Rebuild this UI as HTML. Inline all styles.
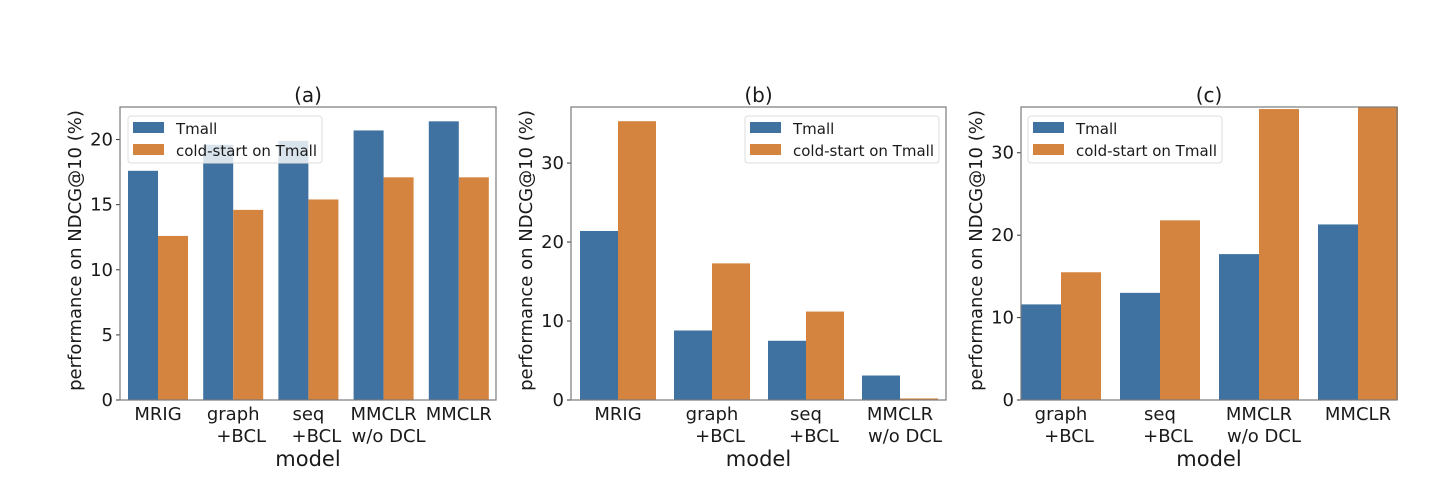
<!DOCTYPE html>
<html><head><meta charset="utf-8"><style>
body{margin:0;background:#fff;}
text{font-family:"DejaVu Sans","Liberation Sans",sans-serif;fill:#1a1a1a;}
</style></head><body>
<svg id="chart" width="1440" height="496" xmlns="http://www.w3.org/2000/svg"></svg>
<script>
const catsA = [["MRIG"],["graph","+BCL"],["seq","+BCL"],["MMCLR","w/o DCL"],["MMCLR"]];
const tmallA = [17.6,19.6,19.9,20.7,21.4];
const coldA = [12.6,14.6,15.4,17.1,17.1];
const ticksA = [0,5,10,15,20];
const catsB = [["MRIG"],["graph","+BCL"],["seq","+BCL"],["MMCLR","w/o DCL"]];
const tmallB = [21.4,8.8,7.5,3.1];
const coldB = [35.3,17.3,11.2,0.2];
const ticksB = [0,10,20,30];
const catsC = [["graph","+BCL"],["seq","+BCL"],["MMCLR","w/o DCL"],["MMCLR"]];
const tmallC = [11.6,13.0,17.7,21.3];
const coldC = [15.5,21.8,35.3,36];
const ticksC = [0,10,20,30];
const seriesNames = ["Tmall","cold-start on Tmall"];

const NS="http://www.w3.org/2000/svg";
const svg=document.getElementById('chart');
function mk(tag,attrs,parent){const e=document.createElementNS(NS,tag);for(const k in attrs)e.setAttribute(k,attrs[k]);(parent||svg).appendChild(e);return e;}
const BLUE="#3f72a0", ORANGE="#d5843f";

function panel(id,L,R,ymax,cats,s1,s2,ticks,title,legX,c0,step,bw){
  const T=107,B=400;
  const g=mk('g',{});
  
  
  const y=v=>B-(Math.min(v,ymax))/ymax*(B-T);
  const x=i=>c0+step*i;
  cats.forEach((c,i)=>{
    const r1=mk('rect',{x:x(i)-bw,y:y(s1[i]),width:bw,height:B-y(s1[i]),fill:BLUE},g);
    
    
    const r2=mk('rect',{x:x(i),y:y(s2[i]),width:bw,height:B-y(s2[i]),fill:ORANGE},g);
    
    
    c.forEach((ln,j)=>{
      const t=mk('text',{x:x(i)+(j>0?(ln=="+BCL"?8:5):0),y:420+j*22,'font-size':18,'text-anchor':'middle'},g);
      t.textContent=ln;
      
      
    });
  });
  ticks.forEach(v=>{
    mk('line',{x1:L-4,x2:L,y1:y(v),y2:y(v),stroke:'#333','stroke-width':1},g);
    const t=mk('text',{x:L-7,y:y(v)+6,'font-size':18,'text-anchor':'end'},g);
    t.textContent=v;
    
    
  });
  const fr=mk('rect',{x:L,y:T,width:R-L,height:B-T,fill:'none',stroke:'#7a7a7a','stroke-width':1.2},g);
  
  
  const tt=mk('text',{x:(L+R)/2,y:102,'font-size':20,'text-anchor':'middle'},g);
  tt.textContent=title;
  
  
  const xl=mk('text',{x:(L+R)/2,y:466,'font-size':21,'text-anchor':'middle'},g);
  xl.textContent='model';
  
  
  const yx=L-39, yc=(T+B)/2-3;
  const yl=mk('text',{x:yx,y:yc,'font-size':18,'text-anchor':'middle',transform:`rotate(-90 ${yx} ${yc})`},g);
  yl.textContent='performance on NDCG@10 (%)';
  
  
  const lg=mk('g',{},g);
  
  
  mk('rect',{x:legX,y:116,width:194,height:47,rx:3,fill:'#fff','fill-opacity':0.8,stroke:'#ddd'},lg);
  [BLUE,ORANGE].forEach((col,k)=>{
    mk('rect',{x:legX+5,y:122+k*22,width:31,height:11,fill:col},lg);
    const t=mk('text',{x:legX+48,y:134+k*22,'font-size':15},lg);
    t.textContent=seriesNames[k];
    
    
  });
}
panel('a',120,496,22.5,catsA,tmallA,coldA,ticksA,'(a)',128,158,75.2,30);
panel('b',571,946,37.1,catsB,tmallB,coldB,ticksB,'(b)',745,618,94,38);
panel('c',1021,1397,35.55,catsC,tmallC,coldC,ticksC,'(c)',1028,1061,99,40);
</script>
</body></html>
